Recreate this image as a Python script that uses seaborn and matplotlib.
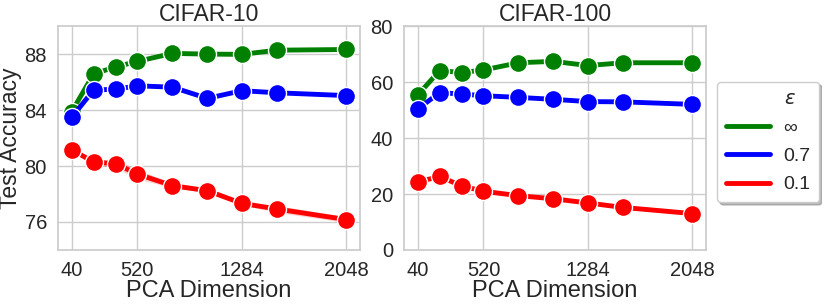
import pandas as pd
import matplotlib
matplotlib.use("Agg")
import matplotlib.pyplot as plt
from matplotlib.lines import Line2D
import seaborn as sns

# PCA dimensions used in the sweep
dims = [40, 200, 360, 520, 776, 1032, 1284, 1540, 2048]
eps_labels = ["\u221e", "0.7", "0.1"]
colors = {"\u221e": "green", "0.7": "blue", "0.1": "red"}

# CIFAR-10 test accuracy
c10_inf = [83.9, 86.6, 87.1, 87.5, 88.07, 88.02, 88.0, 88.3, 88.35]
c10_07 = [83.5, 85.45, 85.5, 85.75, 85.65, 84.85, 85.4, 85.25, 85.05]
c10_01 = [81.17, 80.29, 80.17, 79.43, 78.6, 78.24, 77.33, 76.93, 76.17]
# half width of the shaded band
c10_inf_err = [0.1, 0.1, 0.08, 0.08, 0.08, 0.08, 0.08, 0.08, 0.08]
c10_07_err = [0.1, 0.08, 0.08, 0.08, 0.12, 0.15, 0.08, 0.1, 0.08]
c10_01_err = [0.1, 0.15, 0.3, 0.35, 0.15, 0.15, 0.12, 0.25, 0.2]

# CIFAR-100 test accuracy
c100_inf = [55.5, 64.2, 63.5, 64.4, 67.0, 67.5, 66.0, 67.0, 67.0]
c100_07 = [50.5, 56.3, 55.8, 55.2, 54.6, 53.9, 53.1, 53.0, 52.1]
c100_01 = [24.3, 26.3, 22.9, 21.0, 19.4, 18.3, 16.8, 15.2, 13.0]
c100_inf_err = [0.4, 0.4, 0.4, 0.4, 0.4, 0.4, 0.4, 0.4, 0.4]
c100_07_err = [0.4, 0.4, 0.4, 0.4, 0.4, 0.4, 0.4, 0.4, 0.4]
c100_01_err = [0.4, 0.4, 0.4, 0.4, 0.4, 0.4, 0.4, 0.4, 0.4]

sns.set_theme(style="whitegrid")
plt.rcParams['font.family'] = ['Liberation Sans', 'DejaVu Sans']


def long_df(series):
    rows = []
    for lab, vals, errs in series:
        for d, v, e in zip(dims, vals, errs):
            rows.append({"dim": d, "acc": v, "err": e, "eps": lab})
    return pd.DataFrame(rows)


df10 = long_df([("\u221e", c10_inf, c10_inf_err), ("0.7", c10_07, c10_07_err),
                ("0.1", c10_01, c10_01_err)])
df100 = long_df([("\u221e", c100_inf, c100_inf_err), ("0.7", c100_07, c100_07_err),
                 ("0.1", c100_01, c100_01_err)])

fig, axes = plt.subplots(1, 2, figsize=(8.22, 3.04), dpi=100)
fig.subplots_adjust(left=0.0706, right=0.859, bottom=0.178, top=0.913, wspace=0.146)

for ax, df, title in zip(axes, [df10, df100], ["CIFAR-10", "CIFAR-100"]):
    for lab in eps_labels:
        sub = df[df["eps"] == lab]
        ax.fill_between(sub["dim"], sub["acc"] - sub["err"], sub["acc"] + sub["err"],
                        color=colors[lab], alpha=0.2, linewidth=0)
    sns.lineplot(data=df, x="dim", y="acc", hue="eps", hue_order=eps_labels,
                 palette=colors, marker="o", markersize=13, markeredgecolor="white",
                 markeredgewidth=1, linewidth=3.5, errorbar=None, legend=False, ax=ax)
    ax.set_title(title, fontsize=16.5, pad=4)
    ax.set_xticks([40, 520, 1284, 2048])
    ax.tick_params(axis="both", labelsize=14.5, pad=2)
    ax.set_xlabel("PCA Dimension", fontsize=17, labelpad=0)
    ax.set_ylabel("")

axes[0].set_ylim(74, 90)
axes[0].set_yticks([76, 80, 84, 88])
axes[0].set_ylabel("Test Accuracy", fontsize=16.5, labelpad=2)
axes[1].set_ylim(0, 80)
axes[1].set_yticks([0, 20, 40, 60, 80])

handles = [Line2D([], [], linestyle="none", marker=None)]
labels = ["$\\epsilon$"]
for lab in eps_labels:
    handles.append(Line2D([], [], color=colors[lab], linewidth=3.5))
    labels.append(lab)
fig.legend(handles, labels, loc="upper left", bbox_to_anchor=(0.8723, 0.73),
           borderaxespad=0, fontsize=14, frameon=True, fancybox=True,
           shadow={"color": "0.55", "alpha": 0.6},
           handlelength=2.27, handletextpad=0.7, borderpad=0.45, labelspacing=0.55)

fig.savefig("out.png", dpi=100)
